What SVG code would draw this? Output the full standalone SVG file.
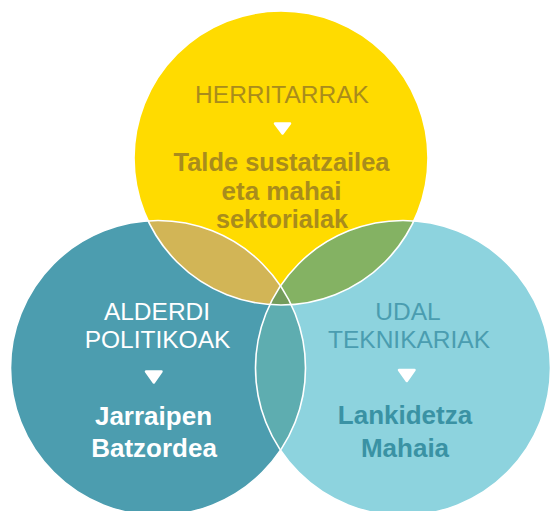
<svg xmlns="http://www.w3.org/2000/svg" width="552" height="511" viewBox="0 0 552 511">
  <style>
    .light { font-family: "Liberation Sans", Arial, sans-serif; font-size: 24.5px; font-weight: normal; text-anchor: middle; }
    .bold { font-family: "Liberation Sans", Arial, sans-serif; font-size: 26px; font-weight: bold; text-anchor: middle; }
    .edge { fill: none; stroke: #ffffff; stroke-width: 1.6; }
    .tri { fill: #ffffff; stroke: #ffffff; stroke-width: 2.5; stroke-linejoin: round; }
  </style>
  <defs>
    <clipPath id="cY"><circle cx="281" cy="158" r="147"/></clipPath>
    <clipPath id="cL"><circle cx="158" cy="368" r="147.5"/></clipPath>
    <clipPath id="cR"><circle cx="403" cy="368" r="147.5"/></clipPath>
  </defs>
  <rect width="552" height="511" fill="#ffffff"/>

  <g id="circles">
    <circle id="circle-herritarrak" cx="281" cy="158" r="147" fill="#FFDB00"/>
    <circle id="circle-alderdi" cx="158" cy="368" r="147.5" fill="#4C9DAF"/>
    <circle id="circle-udal" cx="403" cy="368" r="147.5" fill="#8DD3DE"/>
  </g>

  <g id="overlaps">
    <circle cx="158" cy="368" r="147.5" fill="#D2B556" clip-path="url(#cY)"/>
    <circle cx="403" cy="368" r="147.5" fill="#84B263" clip-path="url(#cY)"/>
    <circle cx="403" cy="368" r="147.5" fill="#5EADB0" clip-path="url(#cL)"/>
    <g clip-path="url(#cY)">
      <circle cx="403" cy="368" r="147.5" fill="#739C5B" clip-path="url(#cL)"/>
    </g>
  </g>

  <g id="connectors">
    <circle class="edge" cx="281" cy="158" r="147"/>
    <circle class="edge" cx="158" cy="368" r="147.5"/>
    <circle class="edge" cx="403" cy="368" r="147.5"/>
  </g>

  <g id="node-herritarrak">
    <text class="light" x="282" y="103" fill="#A98C1C">HERRITARRAK</text>
    <path class="tri" d="M275 123.5 L290 123.5 L282.5 133.5 Z"/>
    <text class="bold" x="281.5" y="171" fill="#A98C1C" textLength="216" lengthAdjust="spacingAndGlyphs">Talde sustatzailea</text>
    <text class="bold" x="281.5" y="200" fill="#A98C1C">eta mahai</text>
    <text class="bold" x="282" y="228" fill="#A98C1C" textLength="132" lengthAdjust="spacingAndGlyphs">sektorialak</text>
  </g>

  <g id="node-alderdi">
    <text class="light" x="157" y="320" fill="#ffffff">ALDERDI</text>
    <text class="light" x="157.5" y="348" fill="#ffffff">POLITIKOAK</text>
    <path class="tri" d="M146 371.5 L161.5 371.5 L153.8 382.5 Z"/>
    <text class="bold" x="153.5" y="425" fill="#ffffff">Jarraipen</text>
    <text class="bold" x="154" y="457" fill="#ffffff">Batzordea</text>
  </g>

  <g id="node-udal">
    <text class="light" x="408" y="320" fill="#4A9DB0">UDAL</text>
    <text class="light" x="409" y="348" fill="#4A9DB0">TEKNIKARIAK</text>
    <path class="tri" d="M399 370 L414.5 370 L406.8 381 Z"/>
    <text class="bold" x="405" y="423.5" fill="#3A92A4">Lankidetza</text>
    <text class="bold" x="405" y="457" fill="#3A92A4">Mahaia</text>
  </g>
</svg>
